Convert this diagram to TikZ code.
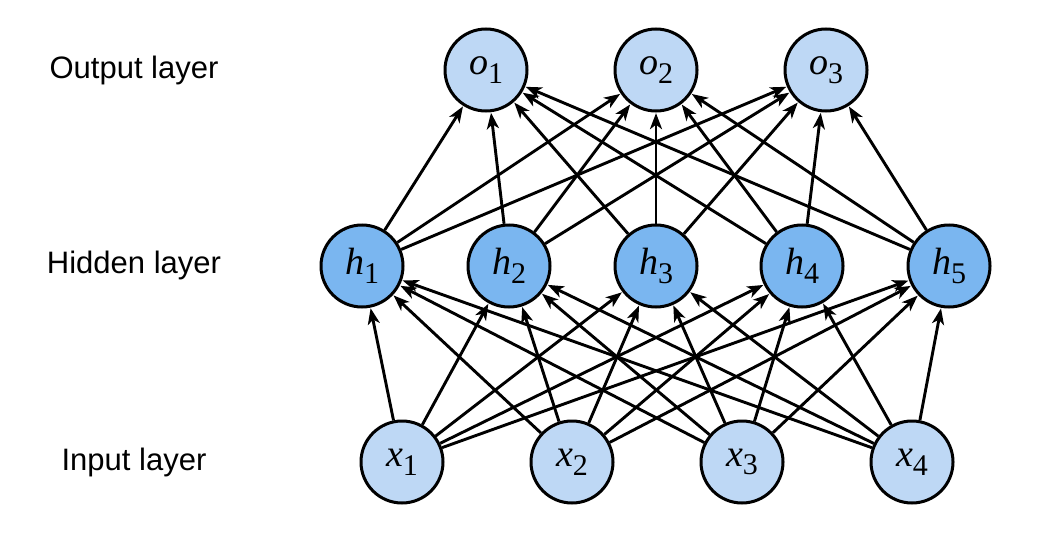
\documentclass[tikz,border=0pt]{standalone}
\usepackage{fontspec}
\setmainfont{Liberation Serif}
\newfontfamily\labfont{Liberation Sans}
\usetikzlibrary{arrows.meta}
\definecolor{lightnode}{RGB}{190,216,245}
\definecolor{darknode}{RGB}{122,182,240}
\newcommand{\nlab}[2]{\textit{#1}\raisebox{-0.5ex}{\fontsize{15}{15}\selectfont #2}}
\tikzset{
  neuron/.style={circle,draw=black,line width=1.5pt,minimum size=82pt*0.5,inner sep=0pt,font=\fontsize{19}{19}\selectfont},
  ionode/.style={neuron,fill=lightnode},
  hidnode/.style={neuron,fill=darknode},
  layerlab/.style={font=\labfont\fontsize{15.5}{15.5}\selectfont},
  conn/.style={line width=1.45pt,-{Stealth[length=8pt,width=6pt,inset=2.2pt]},shorten >=0.3pt}
}
\begin{document}
\begin{tikzpicture}[x=0.5pt,y=-0.5pt]
\useasboundingbox (0,0) rectangle (1048,535);
\node[layerlab] (lo) at (134,70) {Output layer};
\node[layerlab] (lh) at (134,265) {Hidden layer};
\node[layerlab] (li) at (134,462) {Input layer};
\node[ionode] (o1) at (486,70) {\nlab{o}{1}};
\node[ionode] (o2) at (656,70) {\nlab{o}{2}};
\node[ionode] (o3) at (826,70) {\nlab{o}{3}};
\node[hidnode] (h1) at (362,266) {\nlab{h}{1}};
\node[hidnode] (h2) at (509,266) {\nlab{h}{2}};
\node[hidnode] (h3) at (656,266) {\nlab{h}{3}};
\node[hidnode] (h4) at (802,266) {\nlab{h}{4}};
\node[hidnode] (h5) at (949,266) {\nlab{h}{5}};
\node[ionode] (x1) at (402,462) {\nlab{x}{1}};
\node[ionode] (x2) at (572,462) {\nlab{x}{2}};
\node[ionode] (x3) at (742,462) {\nlab{x}{3}};
\node[ionode] (x4) at (912,462) {\nlab{x}{4}};
\foreach \i in {1,...,4}
  \foreach \j in {1,...,5}
    \draw[conn] (x\i) -- (h\j);
\foreach \j in {1,...,5}
  \foreach \k in {1,...,3}
    \draw[conn] (h\j) -- (o\k);
\end{tikzpicture}
\end{document}
